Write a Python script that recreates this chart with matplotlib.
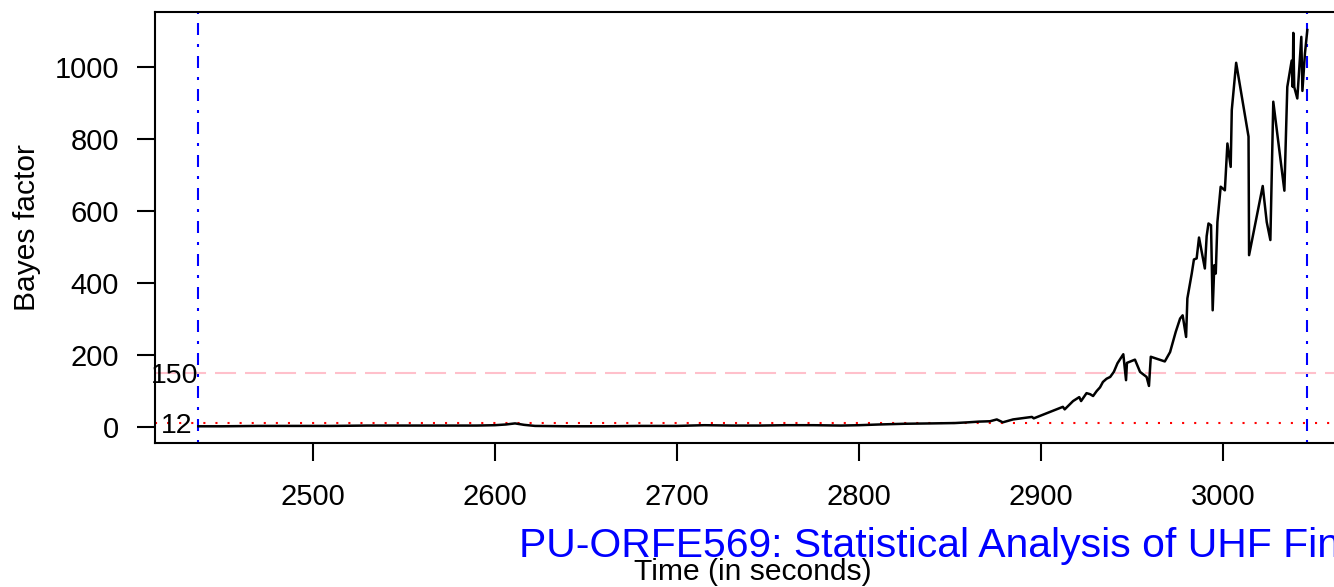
import numpy as np
import matplotlib
matplotlib.use("Agg")
import matplotlib.pyplot as plt

plt.rcParams['font.family'] = ['Liberation Sans', 'DejaVu Sans']

# Bayes factor over time
times = [2437, 2450, 2470, 2490, 2510, 2530, 2550, 2570, 2590, 2600, 2606, 2611,
         2616, 2622, 2640, 2660, 2680, 2700, 2715, 2730, 2745, 2760, 2775, 2790,
         2800, 2811, 2825, 2840, 2852.7, 2860, 2866,
         2872, 2875.7, 2879, 2884.6, 2892, 2895, 2896, 2899.5, 2905, 2910, 2912,
         2913, 2917.6, 2921, 2922, 2925, 2927, 2928.6, 2930.6, 2932.4, 2934,
         2936, 2938, 2940, 2942, 2945.2, 2946.7, 2947.2, 2951.6, 2954.4, 2958,
         2959.3, 2960.3, 2968, 2970.9, 2974, 2976.4, 2977.8, 2979.7, 2980.4,
         2982.8, 2984, 2985.5, 2986.8, 2990, 2991, 2992, 2993.4, 2994.3, 2995.2,
         2996, 2996.9, 2998.7, 3001, 3002.4, 3004.2, 3004.8, 3007.2, 3014,
         3014.3, 3021.8, 3024, 3026, 3027.6, 3033.7, 3035.3, 3037.7, 3038.3,
         3038.6, 3039.1, 3040.8, 3043, 3043.6, 3045, 3046.3]
bayes = [2, 2, 3, 3, 3, 4, 4, 4, 4, 5, 7, 10,
         6, 3, 2, 2, 3, 3, 5, 4, 4, 5, 5, 4,
         5, 7, 9, 10, 11, 13, 15,
         16, 21, 13, 21, 26, 28, 24, 31, 42, 52, 56,
         49, 72, 83, 72, 94, 91, 86, 100, 110, 125,
         134, 139, 153, 177, 202, 130, 178, 187, 153, 139,
         114, 195, 182, 208, 264, 301, 310, 250, 357,
         426, 465, 468, 526, 440, 530, 565, 560, 324, 449,
         426, 569, 667, 657, 787, 722, 880, 1011, 806,
         477, 669, 569, 519, 903, 656, 944, 1017, 944,
         1094, 944, 912, 1083, 933, 1037, 1102]

thresholds = [150, 12]
threshold_labels = ['150', '12']
window = [2437, 3046]

xticks = [2500, 2600, 2700, 2800, 2900, 3000]
yticks = [0, 200, 400, 600, 800, 1000]

W, H = 1334, 587
fig = plt.figure(figsize=(W / 100, H / 100), dpi=100)
ax = fig.add_axes([155 / W, 1 - 443 / H, 1196 / W, 431 / H])

ax.plot(times, bayes, color='black', lw=1.8, zorder=3)

# vertical window markers (dot-dash), thresholds (long dash / dotted)
for t in window:
    ax.axvline(t, color='blue', lw=1.5, dashes=(1.44, 4.32, 5.76, 4.32), zorder=2)
ax.axhline(thresholds[0], color='pink', lw=1.5, dashes=(10.1, 4.3), zorder=1)
ax.axhline(thresholds[1], color='red', lw=1.5, dashes=(1.0, 4.8), zorder=1)

ax.annotate(threshold_labels[0], (window[0], thresholds[0]), xytext=(0, -7.4),
            textcoords='offset points', ha='right', va='baseline', fontsize=20.5)
ax.annotate(threshold_labels[1], (window[0], thresholds[1]), xytext=(-4.3, -7.6),
            textcoords='offset points', ha='right', va='baseline', fontsize=20.5)

ax.set_xlim(2413.2, 3070.3)
ax.set_ylim(-44.4, 1152)
ax.set_xticks(xticks)
ax.set_yticks(yticks)
ax.tick_params(axis='both', direction='out', length=13, width=1.5, labelsize=21)
ax.tick_params(axis='x', pad=16)
ax.tick_params(axis='y', pad=13)
for s in ax.spines.values():
    s.set_linewidth(1.5)

fig.text(27 / W, 1 - 227.5 / H, 'Bayes factor', rotation=90, ha='center',
         va='center', fontsize=21.6)
fig.text(753 / W, 1 - 580 / H, 'Time (in seconds)', ha='center',
         va='baseline', fontsize=21.6)
fig.text(519 / W, 1 - 557 / H, 'PU-ORFE569: Statistical Analysis of UHF Financial Data',
         ha='left', va='baseline', fontsize=29.4, color='blue')

fig.savefig('out.png', dpi=100)
